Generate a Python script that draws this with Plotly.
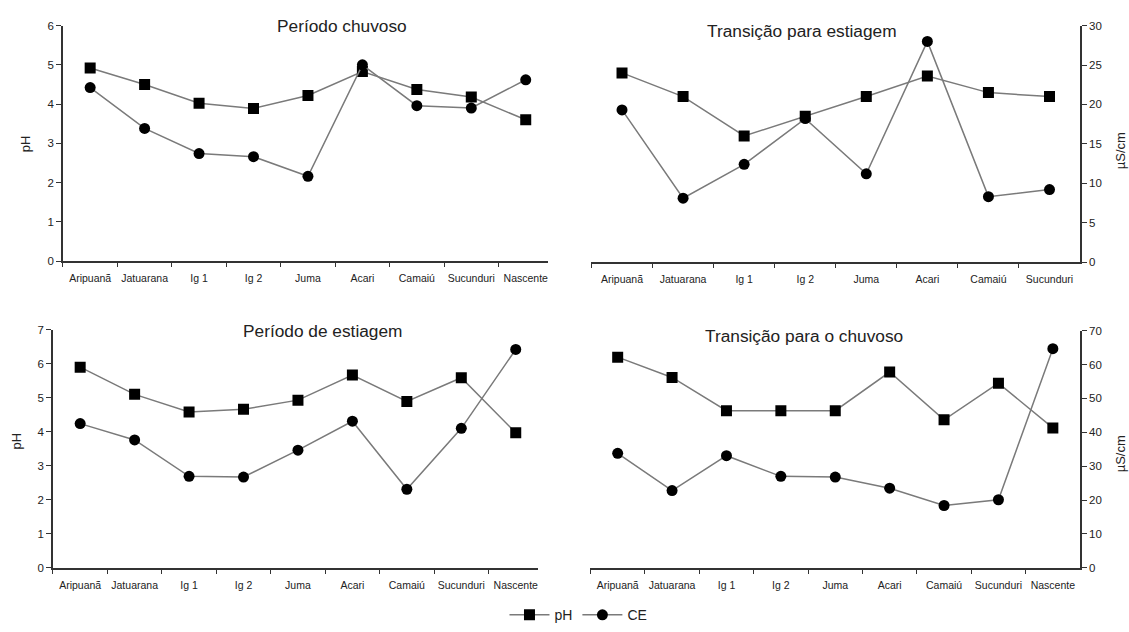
import plotly.graph_objects as go

# --- data -------------------------------------------------------------
sites9 = ["Aripuanã", "Jatuarana", "Ig 1", "Ig 2", "Juma", "Acari", "Camaiú", "Sucunduri", "Nascente"]
sites8 = sites9[:8]

# Período chuvoso
ph_chuvoso = [4.92, 4.50, 4.02, 3.89, 4.22, 4.83, 4.37, 4.18, 3.60]
ce_chuvoso = [22.1, 16.9, 13.7, 13.3, 10.8, 25.0, 19.8, 19.5, 23.1]

# Transição para estiagem
ph_trans_est = [4.80, 4.20, 3.20, 3.70, 4.20, 4.72, 4.30, 4.20]
ce_trans_est = [19.3, 8.1, 12.4, 18.2, 11.2, 28.0, 8.3, 9.2]

# Período de estiagem
ph_estiagem = [5.90, 5.10, 4.58, 4.66, 4.93, 5.67, 4.89, 5.59, 3.97]
ce_estiagem = [42.4, 37.6, 26.9, 26.7, 34.6, 43.1, 23.1, 41.0, 64.2]

# Transição para o chuvoso
ph_trans_chu = [6.22, 5.62, 4.64, 4.64, 4.64, 5.78, 4.37, 5.45, 4.13]
ce_trans_chu = [33.8, 22.8, 33.1, 27.0, 26.8, 23.5, 18.4, 20.1, 64.7]

ph_ticks_top = [0, 1, 2, 3, 4, 5, 6]
ce_ticks_top = [0, 5, 10, 15, 20, 25, 30]
ph_ticks_bot = [0, 1, 2, 3, 4, 5, 6, 7]
ce_ticks_bot = [0, 10, 20, 30, 40, 50, 60, 70]

titles = ["Período chuvoso", "Transição para estiagem", "Período de estiagem", "Transição para o chuvoso"]

# --- layout helpers ---------------------------------------------------
W, H = 1129, 632
FONT = "Liberation Sans, Arial, sans-serif"
INK = "#222222"
LINE = "#7a7a7a"


def fx(px):
    return px / W


def fy(py):
    return 1 - py / H


fig = go.Figure()


def add_pair(xa, y_ph, y_ce, cats, ph, ce, legend=False):
    fig.add_trace(go.Scatter(
        x=cats, y=ph, xaxis=xa, yaxis=y_ph, name="pH", mode="lines+markers",
        line=dict(color=LINE, width=1.5),
        marker=dict(symbol="square", size=11, color="black"),
        showlegend=legend, legendgroup="ph"))
    fig.add_trace(go.Scatter(
        x=cats, y=ce, xaxis=xa, yaxis=y_ce, name="CE", mode="lines+markers",
        line=dict(color=LINE, width=1.5),
        marker=dict(symbol="circle", size=11, color="black"),
        showlegend=legend, legendgroup="ce"))


add_pair("x", "y", "y2", sites9, ph_chuvoso, ce_chuvoso, legend=True)
add_pair("x2", "y3", "y4", sites8, ph_trans_est, ce_trans_est)
add_pair("x3", "y5", "y6", sites9, ph_estiagem, ce_estiagem)
add_pair("x4", "y7", "y8", sites9, ph_trans_chu, ce_trans_chu)

xcommon = dict(type="category", tickson="boundaries", ticks="outside", ticklen=4,
               tickwidth=1.3, tickcolor="#333", showline=True, linecolor="#333",
               linewidth=1.5, showgrid=False, zeroline=False, tickangle=0,
               ticklabelstandoff=7,
               tickfont=dict(family=FONT, size=10.5, color=INK), fixedrange=True)
ycommon = dict(ticks="outside", ticklen=5, tickwidth=1.3, tickcolor="#333",
               showline=True, linecolor="#333", linewidth=1.5, showgrid=False,
               zeroline=False, tickfont=dict(family=FONT, size=11.5, color=INK),
               fixedrange=True)

panels = [
    # x-domain px, y-domain px (top, bottom), x range, categories
    dict(xd=(63, 548), yd=(20, 260), xr=(-0.5, 8.4), cats=sites9),
    dict(xd=(592, 1081), yd=(20, 261), xr=(-0.5, 7.5), cats=sites8),
    dict(xd=(53, 538), yd=(330, 572.7), xr=(-0.5, 8.4), cats=sites9),
    dict(xd=(591, 1081), yd=(331, 572.7), xr=(-0.5, 8.5), cats=sites9),
]

layout = {}
for i, p in enumerate(panels):
    xn = "xaxis" if i == 0 else f"xaxis{i + 1}"
    base_y = 2 * i + 1
    ya = "y" if base_y == 1 else f"y{base_y}"
    layout[xn] = dict(xcommon, domain=[fx(p["xd"][0]), fx(p["xd"][1])],
                      range=list(p["xr"]), anchor=ya,
                      categoryorder="array", categoryarray=p["cats"])

# Panel 1: visible pH axis on the left, hidden CE axis
layout["yaxis"] = dict(ycommon, domain=[fy(260), fy(20)], range=[0, 6],
                       tickvals=ph_ticks_top, anchor="x")
layout["yaxis2"] = dict(ycommon, overlaying="y", side="right", range=[0, 30],
                        visible=False, anchor="x")
# Panel 2: hidden pH axis, visible CE axis on the right
layout["yaxis3"] = dict(ycommon, domain=[fy(261), fy(20)], range=[0, 6],
                        visible=False, anchor="x2")
layout["yaxis4"] = dict(ycommon, overlaying="y3", side="right", range=[0, 30],
                        tickvals=ce_ticks_top, anchor="x2")
# Panel 3: visible pH axis, hidden CE axis
layout["yaxis5"] = dict(ycommon, domain=[fy(572.7), fy(330)], range=[0, 7],
                        tickvals=ph_ticks_bot, anchor="x3")
layout["yaxis6"] = dict(ycommon, overlaying="y5", side="right", range=[0, 70],
                        visible=False, anchor="x3")
# Panel 4: hidden pH axis, visible CE axis
layout["yaxis7"] = dict(ycommon, domain=[fy(572.7), fy(331)], range=[0, 7],
                        visible=False, anchor="x4")
layout["yaxis8"] = dict(ycommon, overlaying="y7", side="right", range=[0, 70],
                        tickvals=ce_ticks_bot, anchor="x4")

annotations = []
title_pos = [(342, 20), (803, 25), (323, 331), (805, 336)]
for t, (px, py) in zip(titles, title_pos):
    annotations.append(dict(text=t, x=fx(px), y=fy(py), xref="paper", yref="paper",
                            xanchor="center", yanchor="middle", showarrow=False,
                            font=dict(family=FONT, size=17.3, color=INK)))

for text, px, py in [("pH", 25, 140), ("pH", 17, 443)]:
    annotations.append(dict(text=text, x=fx(px), y=fy(py), xref="paper", yref="paper",
                            xanchor="center", yanchor="middle", showarrow=False,
                            textangle=-90, font=dict(family=FONT, size=13, color=INK)))
for text, px, py in [("µS/cm", 1121, 148), ("µS/cm", 1121, 457)]:
    annotations.append(dict(text=text, x=fx(px), y=fy(py), xref="paper", yref="paper",
                            xanchor="center", yanchor="middle", showarrow=False,
                            textangle=-90, font=dict(family=FONT, size=13, color=INK)))

fig.update_layout(
    **layout,
    width=W, height=H,
    margin=dict(l=0, r=0, t=0, b=0),
    paper_bgcolor="white", plot_bgcolor="white",
    font=dict(family=FONT, color=INK),
    annotations=annotations,
    legend=dict(orientation="h", x=fx(579), y=fy(621), xanchor="center",
                yanchor="middle", font=dict(family=FONT, size=14, color=INK),
                bgcolor="rgba(0,0,0,0)", itemwidth=40),
)

fig.write_html("out.html")
